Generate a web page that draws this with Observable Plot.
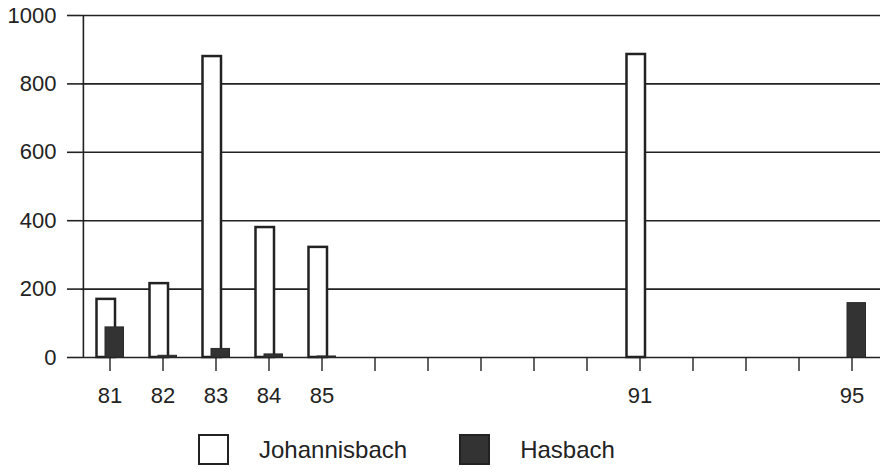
<!DOCTYPE html>
<html>
<head>
<meta charset="utf-8">
<script src="https://cdn.jsdelivr.net/npm/d3@7"></script>
<script src="https://cdn.jsdelivr.net/npm/@observablehq/plot@0.6"></script>
<style>
  body { margin: 0; background: #fff; font-family: "Liberation Sans", Arial, sans-serif; }
  #legend { display: flex; align-items: center; height: 49px; padding-left: 198px; font-size: 24px; color: #222; }
  .sw { width: 27px; height: 27px; border: 2px solid #222; box-sizing: content-box; }
  .lab { margin-left: 30px; margin-right: 0; }
</style>
</head>
<body>
<div id="chart"></div>
<div id="legend"></div>
<script>
const years = [81, 82, 83, 84, 85, 86, 87, 88, 89, 90, 91, 92, 93, 94, 95];
const labeledYears = [81, 82, 83, 84, 85, 91, 95];
const series = ["Johannisbach", "Hasbach"];
const johannisbach = [170, 216, 880, 380, 322, null, null, null, null, null, 886, null, null, null, null];
const hasbach = [88, 5, 25, 9, 3, null, null, null, null, null, null, null, null, null, 159];
const yTicks = [0, 200, 400, 600, 800, 1000];

const jData = years.map((y, i) => ({year: y, value: johannisbach[i]})).filter(d => d.value != null);
const hData = years.map((y, i) => ({year: y, value: hasbach[i]})).filter(d => d.value != null);

const chart = Plot.plot({
  width: 884,
  height: 425,
  marginLeft: 81,
  marginRight: 4,
  marginTop: 15,
  marginBottom: 68,
  style: {fontFamily: "Liberation Sans, Arial, sans-serif", fontSize: "22px", color: "#222", background: "#fff"},
  x: {type: "band", domain: years, padding: 0},
  y: {domain: [0, 1000]},
  marks: [
    Plot.ruleY(yTicks, {stroke: "#222", strokeWidth: 1.6}),
    Plot.barY(jData, {x: "year", y: "value", fill: "#fff", stroke: "#222", strokeWidth: 2.5, insetLeft: 13.5, insetRight: 21}),
    Plot.barY(hData, {x: "year", y: "value", fill: "#333", stroke: "#2a2a2a", strokeWidth: 1, insetLeft: 22, insetRight: 12.5}),
    Plot.ruleX([0], {x: () => years[0], dx: -26.6, y1: 0, y2: 1000, stroke: "#222", strokeWidth: 1.6}),
    Plot.axisY({ticks: yTicks, tickSize: 14, tickPadding: 11, label: null, stroke: "#222", strokeWidth: 1.6, fill: "#222",
      fontSize: 22, tickFormat: d => String(d)}),
    Plot.axisX({ticks: years, tickSize: 14, tickPadding: 16, label: null, stroke: "#222", strokeWidth: 1.4, fill: "#222",
      fontSize: 22, tickFormat: d => labeledYears.includes(d) ? String(d) : ""})
  ]
});
document.getElementById("chart").appendChild(chart);

const legend = document.getElementById("legend");
const fills = ["#fff", "#333"];
series.forEach((s, i) => {
  const sw = document.createElement("div");
  sw.className = "sw";
  sw.style.background = fills[i];
  if (i > 0) sw.style.marginLeft = "52px";
  legend.appendChild(sw);
  const t = document.createElement("span");
  t.className = "lab";
  t.textContent = s;
  legend.appendChild(t);
});
</script>
</body>
</html>
